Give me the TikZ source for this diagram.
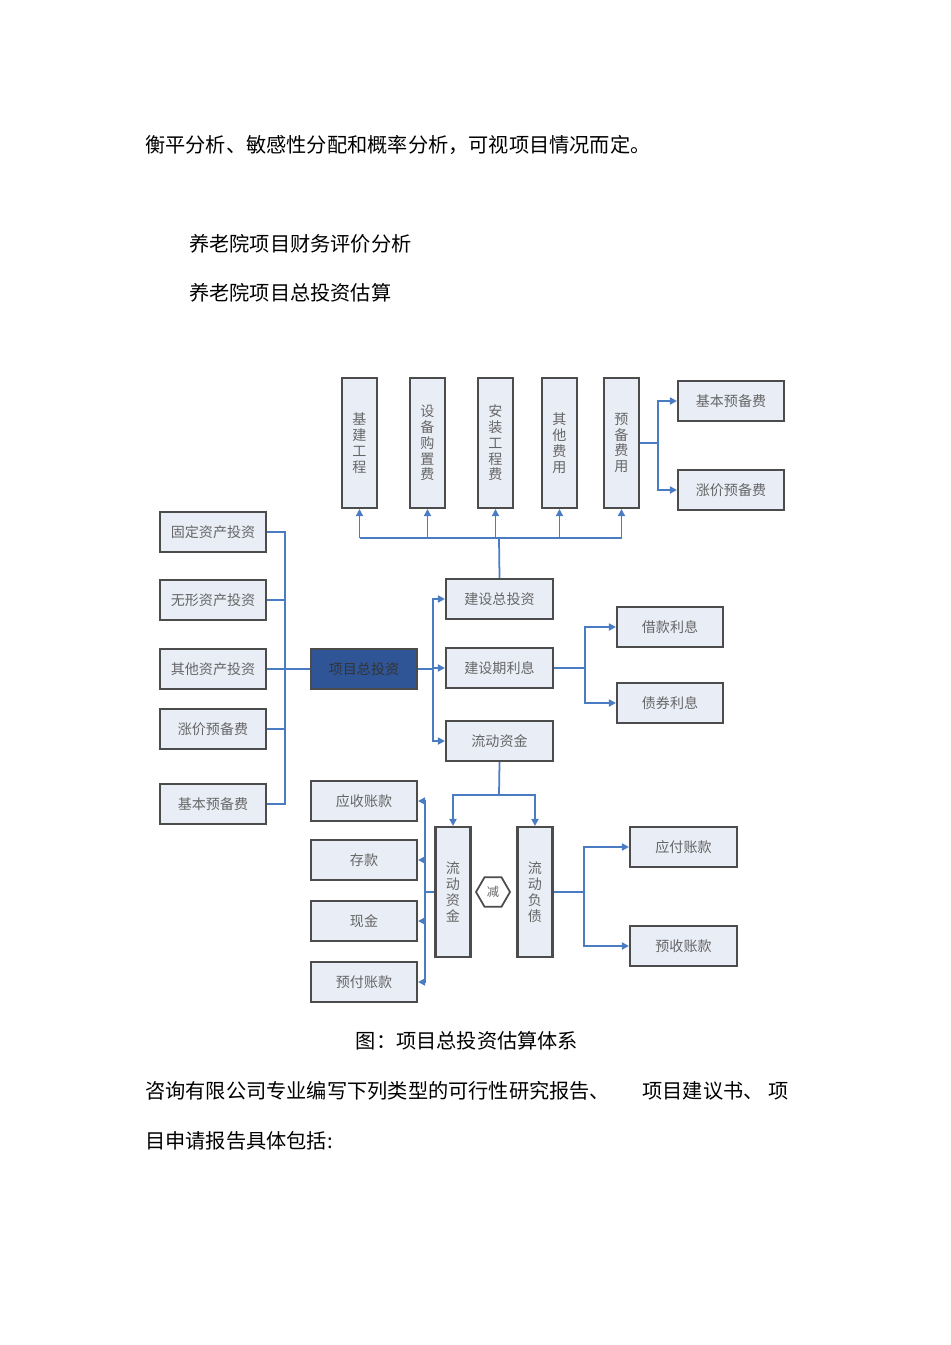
\documentclass[tikz,border=0pt]{standalone}
\usepackage{fontspec}
\newfontfamily\cjk{Noto Sans CJK SC}
\usetikzlibrary{arrows.meta,shapes.geometric}
\definecolor{ln}{HTML}{4A7CC4}
\definecolor{bx}{HTML}{E9EDF6}
\definecolor{dk}{HTML}{2F5597}
\begin{document}
\begin{tikzpicture}[x=0.02cm,y=-0.02cm,
 box/.style={draw=black!70,line width=1.2pt,fill=bx,text=black!60,font=\cjk\fontsize{8}{9}\selectfont,inner sep=0pt},
 con/.style={ln,line width=1pt},
 arr/.style={con,-{Triangle[length=4pt,width=4pt]}},
 txt/.style={font=\cjk\fontsize{11.5}{13}\selectfont,anchor=west,inner sep=0pt}]
\useasboundingbox (0,0) rectangle (950,1345);
\def\B#1#2#3#4#5#6{\node[box,minimum width={(#4-#2)*0.02cm},minimum height={(#5-#3)*0.02cm}] (#1) at ({(#2+#4)/2},{(#3+#5)/2}) {#6};}
\def\V#1#2#3{\node[box,minimum width=0.7cm,minimum height=2.6cm,text width=0.7cm,align=center] (#1) at (#2,443) {#3};}
% texts
\node[txt] (t1) at (145,145) {衡平分析、敏感性分配和概率分析，可视项目情况而定。};
\node[txt] (t2) at (189,244) {养老院项目财务评价分析};
\node[txt] (t3) at (189,293) {养老院项目总投资估算};
\node[txt,anchor=center] (cap) at (467,1041) {图：项目总投资估算体系};
\node[txt] (p1) at (145,1091) {咨询有限公司专业编写下列类型的可行性研究报告、\hspace{1.6em}项目建议书、 项};
\node[txt] (p2) at (145,1141) {目申请报告具体包括:};
% top vertical boxes
\V{v1}{359.5}{基\\建\\工\\程}
\V{v2}{427.5}{设\\备\\购\\置\\费}
\V{v3}{495.5}{安\\装\\工\\程\\费}
\V{v4}{559.5}{其\\他\\费\\用}
\V{v5}{621.5}{预\\备\\费\\用}
\B{r1}{678}{381}{784}{421}{基本预备费}
\B{r2}{678}{470}{784}{510}{涨价预备费}
% left
\B{l1}{160}{512}{266}{552}{固定资产投资}
\B{l2}{160}{580}{266}{620}{无形资产投资}
\B{l3}{160}{649}{266}{689}{其他资产投资}
\B{l4}{160}{709}{266}{749}{涨价预备费}
\B{l5}{160}{784}{266}{824}{基本预备费}
\node[box,fill=dk,text=black!80,minimum width=2.12cm,minimum height=0.8cm] (m) at (364,669) {项目总投资};
\B{c1}{446}{579}{553}{619}{建设总投资}
\B{c2}{446}{648}{553}{688}{建设期利息}
\B{c3}{446}{721}{553}{761}{流动资金}
\B{i1}{617}{607}{723}{647}{借款利息}
\B{i2}{617}{683}{723}{723}{债券利息}
\node[box,minimum width=0.7cm,minimum height=2.6cm,text width=0.7cm,align=center] (f1) at (453,892) {流\\动\\资\\金};
\node[box,minimum width=0.7cm,minimum height=2.6cm,text width=0.7cm,align=center] (f2) at (535,892) {流\\动\\负\\债};
\node[regular polygon,regular polygon sides=6,draw=black!70,line width=1pt,fill=white,minimum size=0.68cm,inner sep=0pt,text=black!60,font=\cjk\fontsize{7}{8}\selectfont] (h) at (493,892) {减};
\B{a1}{311}{781}{417}{821}{应收账款}
\B{a2}{311}{840}{417}{880}{存款}
\B{a3}{311}{901}{417}{941}{现金}
\B{a4}{311}{962}{417}{1002}{预付账款}
\B{b1}{630}{827}{737}{867}{应付账款}
\B{b2}{630}{926}{737}{966}{预收账款}
% connectors
\draw[con] (c1.north) -- (499,538) coordinate (bus);
\draw[con] (v1.south|-bus) -- (v5.south|-bus);
\foreach \v in {v1,v2,v3,v4,v5} \draw[arr] (\v.south|-bus) -- (\v.south);
\coordinate (k1) at (658,443);
\draw[con] (v5.east|-k1) -- (k1);
\draw[arr] (k1) |- (r1.west); \draw[arr] (k1) |- (r2.west);
\coordinate (k2) at (285,669);
\foreach \l in {l1,l2,l3,l4,l5} \draw[con] (\l.east) -| (k2);
\draw[con] (k2) -- (m.west);
\coordinate (k3) at (433,669);
\draw[con] (m.east) -- (k3);
\foreach \c in {c1,c2,c3} \draw[arr] (k3) |- (\c.west);
\coordinate (k4) at (585,668);
\draw[con] (c2.east) -- (k4);
\draw[arr] (k4) |- (i1.west); \draw[arr] (k4) |- (i2.west);
\coordinate (k5) at (499,795);
\draw[con] (c3.south) -- (k5);
\draw[arr] (k5) -| (f1.north); \draw[arr] (k5) -| (f2.north);
\coordinate (k6) at (425,892);
\draw[con] (f1.west) -- (k6);
\foreach \a in {a1,a2,a3,a4} \draw[arr] (k6) |- (\a.east);
\coordinate (k7) at (584,892);
\draw[con] (f2.east) -- (k7);
\draw[arr] (k7) |- (b1.west); \draw[arr] (k7) |- (b2.west);
\end{tikzpicture}
\end{document}
